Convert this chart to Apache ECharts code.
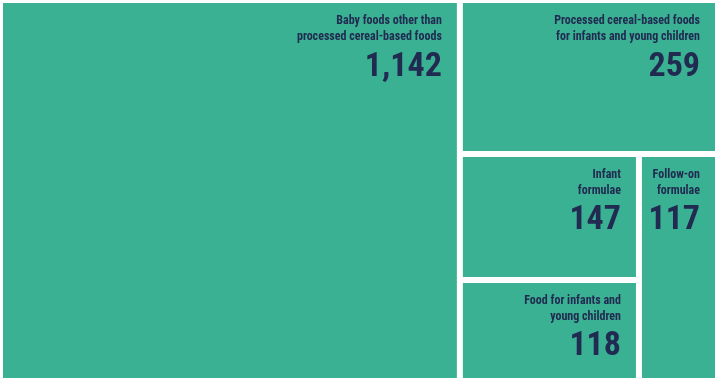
<!DOCTYPE html>
<html><head><meta charset="utf-8">
<script src="https://cdn.jsdelivr.net/npm/echarts@6/dist/echarts.min.js"></script>
<style>html,body{margin:0;padding:0;background:#fff}#c{width:718px;height:381px}</style>
</head><body><div id="c"></div>
<script>
const names = [
  "Baby foods other than\nprocessed cereal-based foods",
  "Processed cereal-based foods\nfor infants and young children",
  "Infant\nformulae",
  "Food for infants and\nyoung children",
  "Follow-on\nformulae"
];
const values = [1142, 259, 147, 118, 117];

const FONT = "'Roboto Condensed',Roboto,sans-serif";
const FILL = '#3AB193';
const INK = '#212A50';
const chart = echarts.init(document.getElementById('c'));
chart.setOption({
  animation: false,
  series: [{
    type: 'treemap',
    left: 0, top: 0, right: 0, bottom: 0,
    roam: false, nodeClick: false,
    squareRatio: 1,
    breadcrumb: { show: false },
    levels: [
      { itemStyle: { borderWidth: 0, gapWidth: 0, borderColor: '#fff' } },
      { itemStyle: { color: FILL, borderColor: '#fff', borderWidth: 3 } }
    ],
    label: {
      show: true,
      position: 'insideTopRight',
      padding: [10, 15, 0, 0],
      align: 'right',
      overflow: 'none',
      formatter: p => '{n|' + p.name + '}\n{v|' + p.value.toLocaleString('en-US') + '}',
      rich: {
        n: { fontFamily: FONT, fontWeight: 'bold', fontSize: 12, lineHeight: 16, color: INK, align: 'right' },
        v: { fontFamily: FONT, fontWeight: 'bold', fontSize: 34, lineHeight: 44, color: INK, align: 'right' }
      }
    },
    data: names.map((n, i) => ({ name: n, value: values[i] }))
  }]
});
</script></body></html>
